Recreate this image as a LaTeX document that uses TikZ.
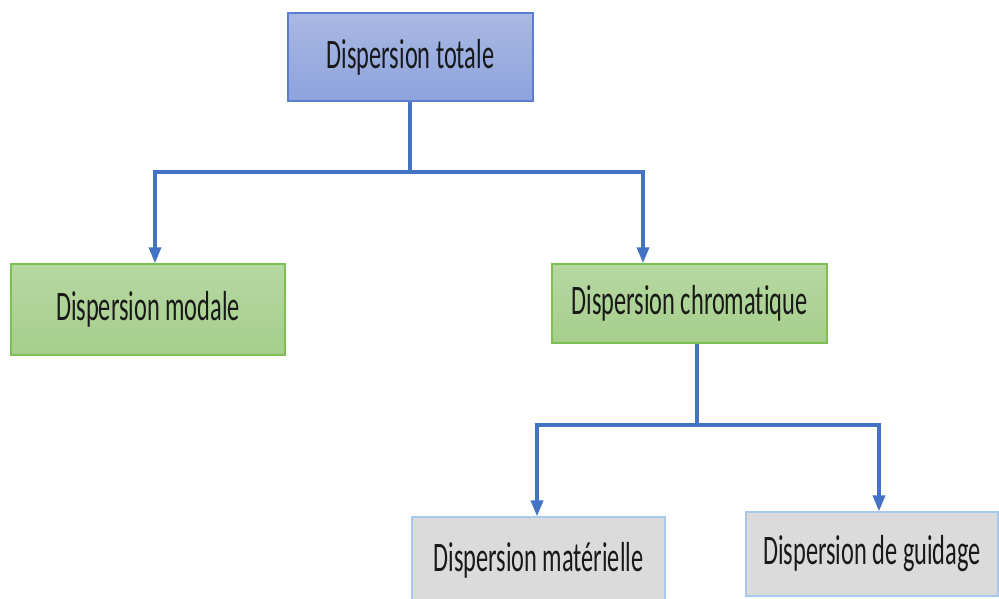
\documentclass[tikz,border=0pt]{standalone}
\usepackage{fontspec}
\setmainfont[Ligatures=NoCommon]{Carlito}
\usetikzlibrary{arrows.meta}
\definecolor{lnblue}{HTML}{4472C4}
\definecolor{topfillA}{HTML}{AAB9E4}
\definecolor{topfillB}{HTML}{8CA3DC}
\definecolor{topborder}{HTML}{5D7DD3}
\definecolor{grnA}{HTML}{B6D8A2}
\definecolor{grnB}{HTML}{A5CE8B}
\definecolor{grnborder}{HTML}{7CBF52}
\definecolor{grayfill}{HTML}{DBDBDB}
\definecolor{grayborder}{HTML}{A8C8EC}
\newcommand{\lbl}[1]{\scalebox{0.58}[1]{\fontsize{42}{46}\selectfont #1}}
\tikzset{
  box/.style={rectangle, inner sep=0pt, line width=1.5pt, text=black!90},
  topbox/.style={box, draw=topborder, top color=topfillA, bottom color=topfillB},
  grnbox/.style={box, draw=grnborder, top color=grnA, bottom color=grnB},
  graybox/.style={box, draw=grayborder, fill=grayfill, line width=1.2pt},
  conn/.style={draw=lnblue, line width=3.5pt},
  arr/.style={conn, -{Triangle[width=12pt,length=16pt]}}
}
\begin{document}
\begin{tikzpicture}[x=1pt,y=-1pt]
\useasboundingbox (0,0) rectangle (999,599);
\node[topbox, minimum width=245pt, minimum height=88pt] (top) at (410.5,57) {\lbl{Dispersion totale}};
\node[grnbox, minimum width=274pt, minimum height=91pt] (modale) at (148,309.5) {\lbl{Dispersion modale}};
\node[grnbox, minimum width=275pt, minimum height=79pt] (chrom) at (689.5,303.5) {\lbl{Dispersion chromatique}};
\node[graybox, minimum width=253pt, minimum height=86pt] (mat) at (538.5,560) {\lbl{Dispersion matérielle}};
\node[graybox, minimum width=252pt, minimum height=84pt] (guid) at (872,554) {\lbl{Dispersion de guidage}};
\coordinate (j1) at (410,172);
\coordinate (j2) at (697,425);
\draw[conn] (top.south -| j1) -- (j1);
\draw[arr] (j1) -| ([xshift=7pt]modale.north);
\draw[arr] (j1) -| ([xshift=-46.5pt]chrom.north);
\draw[conn] (chrom.south -| j2) -- (j2);
\draw[arr] (j2) -| ([xshift=-1.5pt]mat.north);
\draw[arr] (j2) -| ([xshift=7pt]guid.north);
\end{tikzpicture}
\end{document}
